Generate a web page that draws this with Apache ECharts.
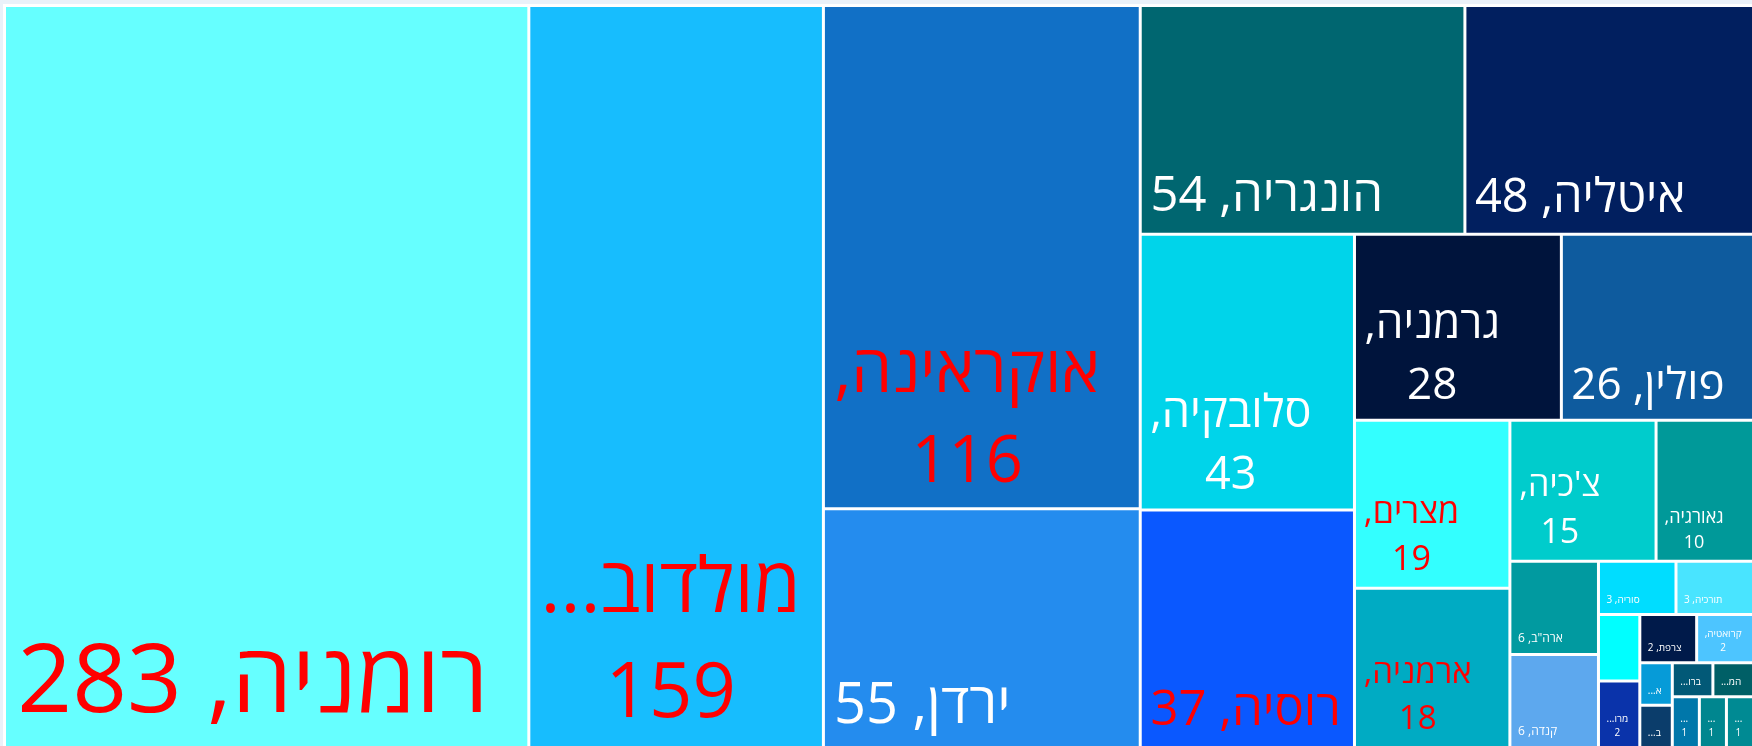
<!DOCTYPE html>
<html>
<head>
<meta charset="utf-8">
<script src="https://cdn.jsdelivr.net/npm/echarts@6/dist/echarts.min.js"></script>
<style>
html,body{margin:0;padding:0;background:#EAF1F9;overflow:hidden;}
#c{position:absolute;left:0;top:0;width:1752px;height:746px;direction:rtl;}
</style>
</head>
<body>
<div id="c"></div>
<script>
// ---- data (equal values listed in reverse: ECharts breaks ties by higher index first) ----
const names = ['רומניה','מולדובה','אוקראינה','ירדן','הונגריה','איטליה','סלובקיה','רוסיה','גרמניה','פולין','מצרים','ארמניה',"צ'כיה",'גאורגיה','קנדה','ארה"ב','תורכיה','סוריה','קרואטיה','צרפת','מרו...','','...','...','...','המ...','ברו...','ב...','א...'];
const values = [283,159,116,55,54,48,43,37,28,26,19,18,15,10,6,6,3,3,2,2,2,2,1,1,1,1,1,1,1];
// displayed name where the picture shows a shortened one
const shownNames = {1:'מולדוב...'};

// ---- styles ----
const FONT = "'Open Sans','DejaVu Sans',sans-serif";
const cellColors = ['#66FFFF','#17BDFE','#1170C6','#248CEE','#006670','#011F5F','#00D4EA','#0A58FF','#00143C','#0E5B9E','#33FFFF','#00ABC3','#00CCCC','#009999','#5DA8EE','#019AA0','#49E4FF','#00DDFF','#4DC5FF','#001A4A','#0A33AA','#00FFFF','#008A93','#00868F','#0077AA','#005F66','#025977','#0B3D6B','#069BD8'];
const redLabels = [0,1,2,7,10,11];
const fontSizes = [96,76,65,56,49,47,45,49,44,44,34,33,34,18,12,12,10,10,10,10,10,10,10,10,10,10,10,10,10];
// one = "name, v"; two = "name,\nv"; twoNC = "name\nv"; name = name only; none
const labelModes = ['one','twoNC','two','one','one','one','two','one','two','one','two','two','two','two','one','one','one','one','two','one','twoNC','none','twoNC','twoNC','twoNC','name','name','name','name'];

const mctx = document.createElement('canvas').getContext('2d');
function textW(t, fs){ mctx.font = 'normal normal ' + fs + 'px ' + FONT; return mctx.measureText(t).width; }

const seriesData = names.map((n, i) => {
  const v = values[i];
  const shown = shownNames[i] || n;
  const mode = labelModes[i];
  let text = '';
  if (mode === 'one') text = shown + ', ' + v;
  else if (mode === 'two') text = shown + ',\n' + v;
  else if (mode === 'twoNC') text = shown + '\n' + v;
  else if (mode === 'name') text = shown;
  const fs = fontSizes[i];
  const lines = text.split('\n');
  const two = lines.length > 1;
  const w = Math.max.apply(null, lines.map(l => textW(l, fs)));
  const pl = 6 + 0.055 * fs;
  const oy = -(7 - 0.12 * fs);
  return {
    name: n,
    value: v,
    itemStyle: { color: cellColors[i] },
    label: {
      show: mode !== 'none',
      formatter: text,
      fontSize: fs,
      fontFamily: FONT,
      color: redLabels.indexOf(i) >= 0 ? '#FF0000' : '#FFFFFF',
      position: 'insideBottomLeft',
      distance: 0,
      padding: 0,
      align: two ? 'center' : 'left',
      verticalAlign: 'bottom',
      lineHeight: Math.round(fs * 1.38),
      offset: [pl + (two ? w / 2 : 0), oy],
      overflow: 'none'
    }
  };
});

const chart = echarts.init(document.getElementById('c'), null, {renderer: 'canvas'});
chart.setOption({
  animation: false,
  series: [{
    type: 'treemap',
    left: 3, top: 4, width: 1752, height: 745,
    squareRatio: 0.76,
    roam: false,
    nodeClick: false,
    breadcrumb: { show: false },
    visibleMin: 0,
    emphasis: { disabled: true },
    levels: [
      { itemStyle: { borderWidth: 3, gapWidth: 3, borderColor: '#FFFFFF' } },
      { itemStyle: { borderWidth: 0, gapWidth: 0 } }
    ],
    data: seriesData
  }]
});
</script>
</body>
</html>
